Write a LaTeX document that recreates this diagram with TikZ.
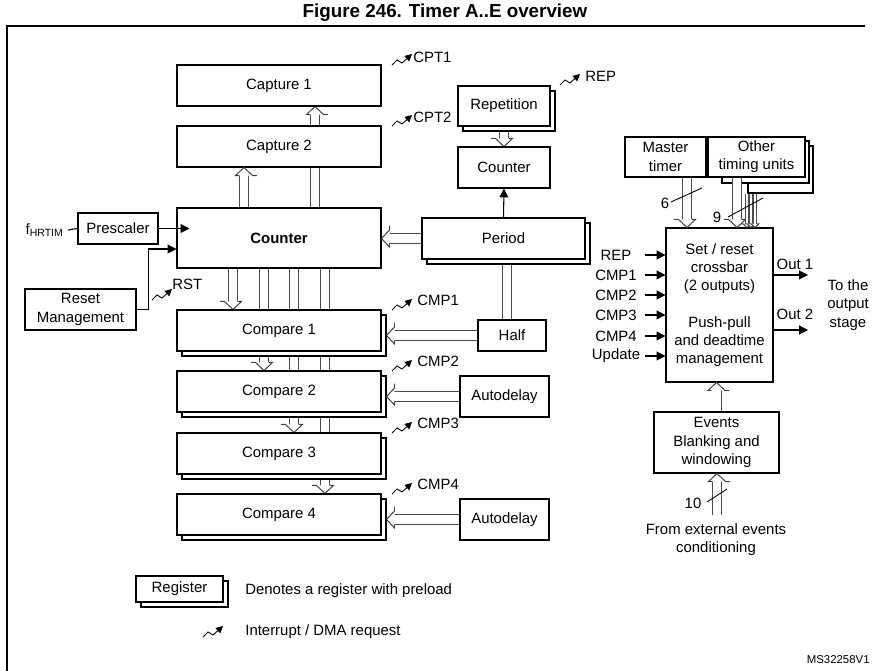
\documentclass[tikz,border=0pt]{standalone}
\usepackage{fontspec}
\setmainfont{Liberation Sans}
\usetikzlibrary{arrows.meta,shadows,backgrounds}

\tikzset{
  blk/.style={draw, fill=white, line width=0.6pt, inner sep=1pt, align=center},
  reg/.style={blk, copy shadow={shadow xshift=0.1cm, shadow yshift=-0.1cm}},
  busline/.style={draw=black!70, double=white, double distance=4.6pt, line width=0.55pt},
  bus/.style={busline, shorten >=4.5pt},
  thinbus/.style={draw=black!70, double=white, double distance=1.2pt, line width=0.5pt, shorten >=2pt},
  hd/.pic={\draw[draw=black!75, line width=0.55pt, fill=white] (-8,-4.9) -- (-8,-8.5) -- (0,0) -- (-8,8.5) -- (-8,4.9);},
  sig/.style={line width=0.6pt, -{Triangle[length=5pt,width=5pt]}},
  lbl/.style={inner sep=0pt, align=center},
  irq/.pic={\draw[line width=0.5pt, -{Triangle[length=4pt,width=4pt]}] (0,0) -- (5,-5) -- (10,-2) -- (20,-11);}
}

\begin{document}
\begin{tikzpicture}[x=0.02cm, y=-0.02cm, font=\fontsize{8.5}{10.4}\selectfont]
\useasboundingbox (0,0) rectangle (882,671);
%Title and frame
\node[font=\fontsize{10.7}{12}\selectfont\bfseries] (title) at (445,13) {Figure 246. Timer A..E overview};
\draw[line width=0.6pt] (7,671) -- (7,26) -- (865,26);

%Counter with capture and compare units
\node[blk, minimum width=4.08cm, minimum height=0.82cm] (capA) at (279,85.5) {Capture 1};
\node[blk, minimum width=4.08cm, minimum height=0.82cm] (capB) at (279,146.5) {Capture 2};
\node[blk, minimum width=4.08cm, minimum height=1.2cm] (cnt) at (279,238) {\textbf{Counter}};
\node[reg, minimum width=4.08cm, minimum height=0.82cm] (cmpA) at (279,330.5) {Compare 1};
\node[reg, minimum width=4.08cm, minimum height=0.82cm] (cmpB) at (279,391.5) {Compare 2};
\node[reg, minimum width=4.08cm, minimum height=0.82cm] (cmpC) at (279,453.5) {Compare 3};
\node[reg, minimum width=4.08cm, minimum height=0.82cm] (cmpD) at (279,514.5) {Compare 4};

\node[blk, minimum width=1.6cm, minimum height=0.62cm] (pre) at (118,228.5) {Prescaler};
\node[blk, minimum width=2.22cm, minimum height=0.82cm] (rst) at (80.5,309.5) {Reset\\Management};
\node[lbl, anchor=east] (fclk) at (64,230) {f\textsubscript{HRTIM}};

%Period, repetition and delays
\node[reg, minimum width=1.84cm, minimum height=0.8cm] (rep) at (504,106) {Repetition};
\node[blk, minimum width=1.84cm, minimum height=0.82cm] (cntR) at (504,167.5) {Counter};
\node[reg, minimum width=3.26cm, minimum height=0.82cm] (per) at (503.5,238.5) {Period};
\node[blk, minimum width=1.36cm, minimum height=0.62cm] (half) at (512,335.5) {Half};
\node[blk, minimum width=1.78cm, minimum height=0.82cm] (adA) at (504.5,396.5) {Autodelay};
\node[blk, minimum width=1.78cm, minimum height=0.82cm] (adB) at (504.5,519.5) {Autodelay};

%Buses behind the boxes
\begin{scope}[on background layer]
\draw[bus] ([xshift=0.72cm]cnt.north) -- ([xshift=0.72cm]capA.south) pic[rotate=90] {hd};
\foreach \dx/\dst in {-0.92/cmpA, -0.3/cmpB, 0.3/cmpC, 0.92/cmpD}
  \draw[bus] ([xshift=\dx cm]cnt.south) -- ([xshift=\dx cm]\dst.north) pic[rotate=-90] {hd};
\draw[bus] (rep.south) -- (cntR.north) pic[rotate=-90] {hd};
\draw[busline] ([xshift=-0.1cm]half.north |- per.south) -- ([xshift=-0.1cm]half.north);
\end{scope}
\draw[bus] ([xshift=-0.7cm]cnt.north) -- ([xshift=-0.7cm]capB.south) pic[rotate=90] {hd};
\draw[bus] (per.west) -- (per.west -| cnt.east) pic[rotate=180] {hd};
\draw[bus] (half.west) -- ([xshift=0.1cm]half.west -| cmpA.east) pic[rotate=180] {hd};
\draw[bus] (adA.west) -- ([xshift=0.1cm]adA.west -| cmpB.east) pic[rotate=180] {hd};
\draw[bus] (adB.west) -- ([xshift=0.1cm]adB.west -| cmpD.east) pic[rotate=180] {hd};
\draw[sig] (per.north) -- (cntR.south);

\draw[line width=0.6pt] ([xshift=0.08cm]fclk.east) -- (pre.west);
\draw[sig] (pre.east) -- ([xshift=0.26cm]pre.east -| cnt.west);
\draw[sig] (rst.east) -| ([xshift=-0.56cm,yshift=-0.22cm]cnt.west) -- ([yshift=-0.22cm]cnt.west);

%Interrupt requests
\pic at (392,65) {irq};
\node[lbl, anchor=west] (cptA) at (413,57) {CPT1};
\pic at (392,126) {irq};
\node[lbl, anchor=west] (cptB) at (413,117) {CPT2};
\pic at (152,300) {irq};
\node[lbl, anchor=west] (rstirq) at (172,284) {RST};
\pic at (560,85) {irq};
\node[lbl, anchor=west] (repirq) at (585,76) {REP};
\foreach \yy/\lab in {310/CMP1, 371/CMP2, 433/CMP3, 494/CMP4}{
  \pic at (392,\yy) {irq};
  \node[lbl, anchor=west] at (417,\yy-10) {\lab};
}

%Output stage
\node[blk, minimum width=1.62cm, minimum height=0.8cm] (mst) at (665.5,157) {Master\\timer};
\draw[line width=0.6pt, fill=white] (748,146) rectangle (813,193);
\draw[line width=0.6pt, fill=white] (722,141) rectangle (809,183);
\node[blk, minimum width=1.94cm, minimum height=0.8cm] (oth) at (756.5,157) {Other\\timing units};
\node[blk, minimum width=2.14cm, minimum height=3.08cm] (sr) at (719.5,305)
  {Set / reset\\crossbar\\(2 outputs)\\[10.4pt]Push-pull\\and deadtime\\management};

\draw[bus] ([xshift=0.43cm]mst.south) -- ([xshift=0.43cm]mst.south |- sr.north) pic[rotate=-90] {hd};
\draw[bus] ([xshift=-0.39cm]oth.south) -- ([xshift=-0.39cm]oth.south |- sr.north) pic[rotate=-90] {hd};
\foreach \dx in {-0.19, -0.11, -0.03}
  \draw[thinbus] ([xshift=\dx cm, yshift=-0.32cm]oth.south) -- ([xshift=\dx cm]oth.south |- sr.north) pic[rotate=-90, scale=0.45] {hd};
\draw[line width=0.5pt] (671,202) -- (702,188);
\node[lbl] (nmst) at (665,203) {6};
\draw[line width=0.5pt] (728,217) -- (763,198);
\node[lbl] (noth) at (717,217) {9};

\foreach \lab/\yy [count=\i] in {REP/255, CMP1/275, CMP2/295, CMP3/315, CMP4/336, Update/356}{
  \node[lbl] (in\i) at (616,\yy) {\lab};
  \draw[sig] ([xshift=0.58cm]in\i.center) -- (in\i.center -| sr.west);
}

\coordinate (outA) at (808,275);
\coordinate (outB) at (808,330);
\draw[sig] (sr.east |- outA) -- (outA);
\draw[sig] (sr.east |- outB) -- (outB);
\node[lbl] (outAl) at (795,264) {Out 1};
\node[lbl] (outBl) at (795,314) {Out 2};
\node[lbl] (stage) at (848,305) {To the\\output\\stage};

\node[blk, minimum width=2.5cm, minimum height=1.22cm] (ev) at (716.5,442.5) {Events\\Blanking and\\windowing};
\draw[bus] (ev.north) -- (ev.north |- sr.south) pic[rotate=90] {hd};
\coordinate (extin) at (717,515);
\draw[bus] (extin) -- (extin |- ev.south) pic[rotate=90] {hd};
\draw[line width=0.5pt] (707,502) -- (727,489);
\node[lbl] (next) at (693,503) {10};
\node[lbl] (extlbl) at (716,540) {From external events\\conditioning};

%Legend
\node[reg, minimum width=1.74cm, minimum height=0.52cm] (legreg) at (179.5,589) {Register};
\node[lbl, anchor=west] (legregtxt) at (245,591) {Denotes a register with preload};
\pic at (203,637) {irq};
\node[lbl, anchor=west] (legirq) at (245,632) {Interrupt / DMA request};
\node[lbl, anchor=east, font=\fontsize{6.5}{7}\selectfont] (docid) at (870,660) {MS32258V1};
\end{tikzpicture}
\end{document}
